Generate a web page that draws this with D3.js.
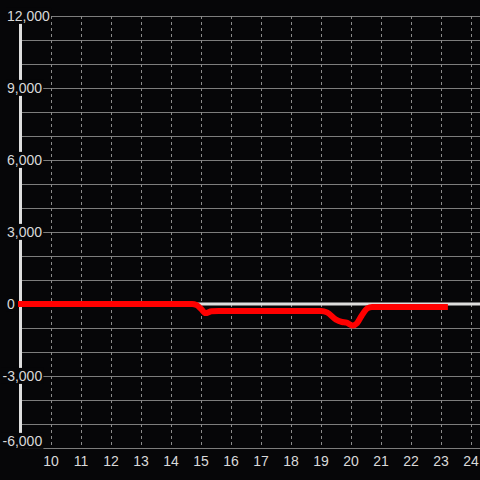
<!DOCTYPE html>
<html>
<head>
<meta charset="utf-8">
<script src="https://cdn.jsdelivr.net/npm/d3@7"></script>
<style>
  html, body { margin: 0; padding: 0; background: #060608; }
  svg { display: block; }
  text { font-family: "Liberation Sans", Arial, sans-serif; font-size: 14px; fill: #d9d9d9; }
</style>
</head>
<body>
<svg id="chart" width="480" height="480"></svg>
<script>
// ---- data ----
const xValues = [9, 14.7, 14.85, 15.0, 15.15, 15.35, 15.6, 19.0, 19.2, 19.5, 19.7, 19.85, 20.05, 20.2, 20.35, 20.55, 20.7, 23.13];
const yValues = [0, 0, -40, -200, -380, -300, -290, -290, -350, -650, -750, -780, -900, -800, -500, -180, -120, -120];
const xTicks = [10, 11, 12, 13, 14, 15, 16, 17, 18, 19, 20, 21, 22, 23, 24];
const yLabelTicks = [12000, 9000, 6000, 3000, 0, -3000, -6000];
const yGridTicks = d3.range(-6000, 12001, 1000);

(function () {
const W = 480, H = 480;
const bg = "#060608";
const pLeft = 20, pRight = 480, pTop = 16, pBottom = 448;

const svg = d3.select("#chart");
svg.append("rect").attr("width", W).attr("height", H).attr("fill", bg);

const x = d3.scaleLinear().domain([9, 24.3]).range([21, 480]);
const y = d3.scaleLinear().domain([-6000, 12000]).range([pBottom, pTop]);

// horizontal grid
svg.append("g").selectAll("line").data(yGridTicks).join("line")
  .attr("x1", pLeft).attr("x2", pRight)
  .attr("y1", d => y(d)).attr("y2", d => y(d))
  .attr("stroke", "#7c7c7c").attr("stroke-width", 1)
  .attr("shape-rendering", "crispEdges");

// vertical dashed grid
svg.append("g").selectAll("line").data(xTicks).join("line")
  .attr("x1", d => x(d)).attr("x2", d => x(d))
  .attr("y1", pTop).attr("y2", pBottom)
  .attr("stroke", "#8a8a8a").attr("stroke-width", 1)
  .attr("stroke-dasharray", "3,3")
  .attr("shape-rendering", "crispEdges");

// zero line
svg.append("line")
  .attr("x1", pLeft).attr("x2", pRight)
  .attr("y1", y(0)).attr("y2", y(0))
  .attr("stroke", "#dedede").attr("stroke-width", 3);

// y axis line
svg.append("line")
  .attr("x1", 20.5).attr("x2", 20.5)
  .attr("y1", pTop).attr("y2", pBottom)
  .attr("stroke", "#dedede").attr("stroke-width", 3);

// series
const pts = xValues.map((v, i) => [v, yValues[i]]);
const line = d3.line().x(d => x(d[0])).y(d => y(d[1])).curve(d3.curveMonotoneX);
svg.append("path").datum(pts)
  .attr("d", line)
  .attr("fill", "none")
  .attr("stroke", "#ff0000")
  .attr("stroke-width", 6)
  .attr("stroke-linecap", "square")
  .attr("stroke-linejoin", "round");

// y labels with background
const yl = svg.append("g");
yLabelTicks.forEach(v => {
  const g = yl.append("g");
  const cy = Math.min(y(v), pBottom - 7);
  const t = g.append("text")
    .attr("x", v < 0 ? 2.5 : 7)
    .attr("y", cy)
    .attr("dy", "0.35em")
    .text(d3.format(",")(v).replace("\u2212", "-"));
  const b = t.node().getBBox();
  g.insert("rect", "text")
    .attr("x", b.x - 1).attr("y", b.y)
    .attr("width", b.width + 2).attr("height", b.height)
    .attr("fill", bg);
});

// x labels
svg.append("g").selectAll("text").data(xTicks).join("text")
  .attr("x", d => x(d))
  .attr("y", 466)
  .attr("text-anchor", "middle")
  .text(d => d);
})();
</script>
</body>
</html>
